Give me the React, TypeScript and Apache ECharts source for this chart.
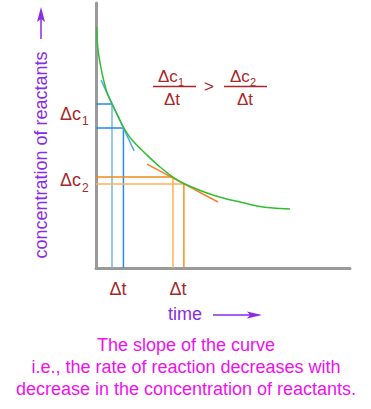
import React, { useEffect, useRef } from "react";
import * as echarts from "echarts";

// Concentration–time curve (time axis 0–100, concentration axis 0–100)
const curveTime = [0.2, 0.8, 1.9, 3.0, 4.4, 6.3, 8.7, 11.0, 14.2, 20.1, 25.2, 30.3, 35.0, 43.7, 50.0, 56.7, 63.4, 69.7, 76.4];
const curveConc = [90.9, 82.3, 75.8, 70.9, 66.0, 61.9, 57.2, 52.8, 48.3, 42.6, 38.1, 34.3, 31.7, 28.3, 26.4, 24.9, 23.4, 22.6, 22.3];

// First interval (steep part of the curve)
const interval1Times = [6.3, 10.8];
const interval1Concs = [61.9, 52.8];
const tangent1Times = [2.0, 15.0];
const tangent1Concs = [70.9, 44.2];

// Second interval (flatter part of the curve)
const interval2Times = [30.3, 34.6];
const interval2Concs = [34.3, 31.7];
const tangent2Times = [20.1, 48.0];
const tangent2Concs = [39.2, 24.9];

const noteLines = [
  "The slope of the curve",
  "i.e., the rate of reaction decreases with",
  "decrease in the concentration of reactants.",
];

const RED = "#A82828";
const PURPLE = "#8A2BE6";
const MAGENTA = "#EE11EE";
const FONT = "'Liberation Sans', Arial, sans-serif";

function seg(name: string, pts: number[][], color: string, width = 1.5) {
  return {
    name,
    type: "line",
    data: pts,
    symbol: "none",
    silent: true,
    lineStyle: { color, width },
    z: 2,
  };
}

function txt(text: string, x: number, y: number, size: number, color: string, align = "left", extra: any = {}) {
  return {
    type: "text",
    x,
    y,
    silent: true,
    ...extra,
    style: {
      text,
      fill: color,
      font: `${size}px ${FONT}`,
      textAlign: align,
      textVerticalAlign: "middle",
    },
  };
}

export default function App() {
  const ref = useRef<HTMLDivElement>(null);
  useEffect(() => {
    if (!ref.current) return;
    const chart = echarts.init(ref.current, null, { renderer: "svg" });

    const series: any[] = [
      // blue drop lines
      seg("b-h1", [[0, interval1Concs[0]], [interval1Times[0], interval1Concs[0]]], "#1E88F0"),
      seg("b-v1", [[interval1Times[0], interval1Concs[0]], [interval1Times[0], 0]], "#72B6F2"),
      seg("b-h2", [[0, interval1Concs[1]], [interval1Times[1], interval1Concs[1]]], "#1E88F0"),
      seg("b-v2", [[interval1Times[1], interval1Concs[1]], [interval1Times[1], 0]], "#2A8BEA"),
      // orange drop lines
      seg("o-h1", [[0, interval2Concs[0]], [interval2Times[0], interval2Concs[0]]], "#F08A10"),
      seg("o-v1", [[interval2Times[0], interval2Concs[0]], [interval2Times[0], 0]], "#FFB055"),
      seg("o-h2", [[0, interval2Concs[1]], [interval2Times[1], interval2Concs[1]]], "#FFB055"),
      seg("o-v2", [[interval2Times[1], interval2Concs[1]], [interval2Times[1], 0]], "#F5901C"),
      // curve
      {
        name: "curve",
        type: "line",
        data: curveTime.map((t, i) => [t, curveConc[i]]),
        smooth: 0.3,
        symbol: "none",
        silent: true,
        lineStyle: { color: "#2EC02E", width: 1.5 },
        z: 3,
      },
      // tangents
      seg("tan1", [[tangent1Times[0], tangent1Concs[0]], [tangent1Times[1], tangent1Concs[1]]], "#5AA5F0"),
      seg("tan2", [[tangent2Times[0], tangent2Concs[0]], [tangent2Times[1], tangent2Concs[1]]], "#F7802A"),
    ];

    const graphics: any[] = [
      // y-axis label + arrow
      txt("concentration of reactants", 41, 155, 18, PURPLE, "center", { rotation: Math.PI / 2 }),
      { type: "line", silent: true, shape: { x1: 41, y1: 39, x2: 41, y2: 18 }, style: { stroke: PURPLE, lineWidth: 1.5 } },
      { type: "polygon", silent: true, shape: { points: [[41, 7], [45, 22], [41, 19], [37, 22]] }, style: { fill: PURPLE } },
      // left Δc labels
      txt("Δc", 60, 114, 18, RED),
      txt("1", 82, 121, 12, RED),
      txt("Δc", 60, 180, 18, RED),
      txt("2", 82, 188, 12, RED),
      // formula
      txt("Δc", 158, 76, 17, RED),
      txt("1", 178, 82, 11, RED),
      { type: "line", silent: true, shape: { x1: 153, y1: 86.5, x2: 196, y2: 86.5 }, style: { stroke: RED, lineWidth: 1.5 } },
      txt("Δt", 172, 99, 17, RED, "center"),
      txt(">", 209, 86.5, 17, RED, "center"),
      txt("Δc", 230, 76, 17, RED),
      txt("2", 250, 82, 11, RED),
      { type: "line", silent: true, shape: { x1: 224, y1: 86.5, x2: 267, y2: 86.5 }, style: { stroke: RED, lineWidth: 1.5 } },
      txt("Δt", 245, 99, 17, RED, "center"),
      // Δt below axis
      txt("Δt", 118, 289, 18, RED, "center"),
      txt("Δt", 178, 289, 18, RED, "center"),
      // time label + arrow
      txt("time", 168, 314, 18, PURPLE),
      { type: "line", silent: true, shape: { x1: 213, y1: 315, x2: 253, y2: 315 }, style: { stroke: PURPLE, lineWidth: 1.5 } },
      { type: "polygon", silent: true, shape: { points: [[262, 315], [247, 311.5], [250, 315], [247, 318.5]] }, style: { fill: PURPLE } },
      // note
      ...noteLines.map((l, i) => txt(l, 186, 345 + i * 22, 18, MAGENTA, "center")),
    ];

    chart.setOption({
      animation: false,
      grid: { left: 96, right: 21, top: 3, bottom: 141, containLabel: false },
      xAxis: {
        type: "value",
        min: 0,
        max: 100,
        axisLine: { show: true, lineStyle: { color: "#9A9A9A", width: 3 } },
        axisTick: { show: false },
        axisLabel: { show: false },
        splitLine: { show: false },
      },
      yAxis: {
        type: "value",
        min: 0,
        max: 100,
        axisLine: { show: true, lineStyle: { color: "#9A9A9A", width: 3 } },
        axisTick: { show: false },
        axisLabel: { show: false },
        splitLine: { show: false },
      },
      series,
      graphic: graphics,
    });
    return () => chart.dispose();
  }, []);

  return (
    <div
      ref={ref}
      style={{ position: "absolute", left: 0, top: 0, width: 371, height: 409, background: "#fff" }}
    />
  );
}
